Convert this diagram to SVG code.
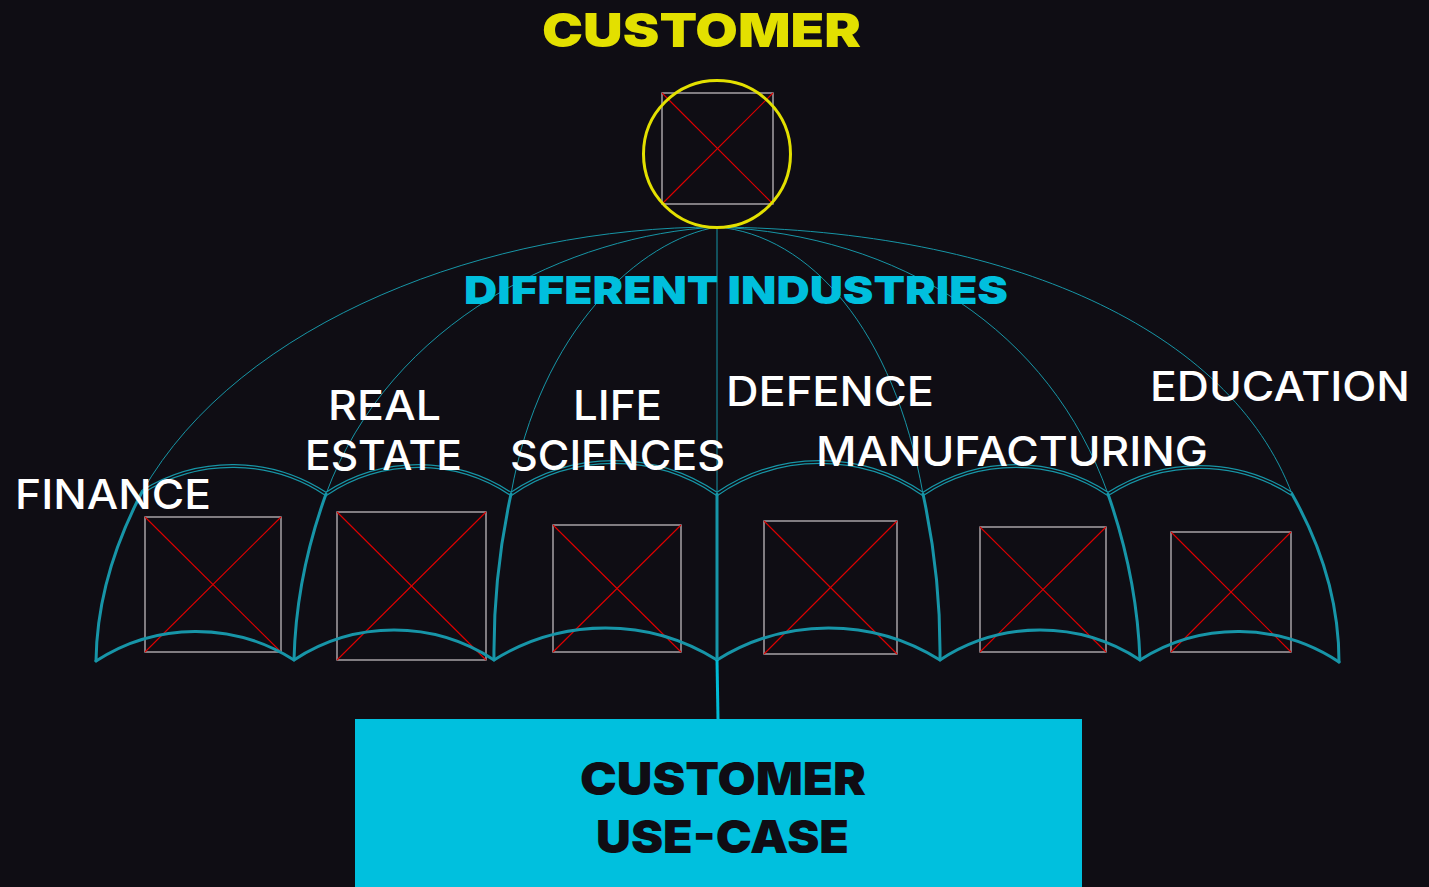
<svg xmlns="http://www.w3.org/2000/svg" width="1429" height="887" viewBox="0 0 1429 887">
<style>
.bg{fill:#0F0D14}
.thin{fill:none;stroke:#1795A6;stroke-width:1}
.thick{fill:none;stroke:#1795A8;stroke-width:3;stroke-linecap:round}
.ringo{fill:none;stroke:#1795A6;stroke-width:4}
.ringi{fill:none;stroke:#0F0D14;stroke-width:1.6}
.ph{fill:none;stroke:#BDB8BC;stroke-width:1.3}
.phx{stroke:#E00000;stroke-width:1.1}
.lbl{font-family:Inter,'Open Sans','Liberation Sans',sans-serif;font-size:41px;font-weight:500;fill:#FFFFFF}
.head{font-family:Inter,'Open Sans','Liberation Sans',sans-serif;font-weight:900}
</style>
<rect class="bg" x="0" y="0" width="1429" height="887"/>

<g id="images">
  <g id="img-customer"><rect class="ph" x="662" y="93" width="111" height="111"/><line class="phx" x1="662" y1="93" x2="773" y2="204"/><line class="phx" x1="773" y1="93" x2="662" y2="204"/></g>
  <g id="img-finance"><rect class="ph" x="145" y="517" width="136" height="135"/><line class="phx" x1="145" y1="517" x2="281" y2="652"/><line class="phx" x1="281" y1="517" x2="145" y2="652"/></g>
  <g id="img-realestate"><rect class="ph" x="337" y="512" width="149" height="148"/><line class="phx" x1="337" y1="512" x2="486" y2="660"/><line class="phx" x1="486" y1="512" x2="337" y2="660"/></g>
  <g id="img-lifesciences"><rect class="ph" x="553" y="525" width="128" height="127"/><line class="phx" x1="553" y1="525" x2="681" y2="652"/><line class="phx" x1="681" y1="525" x2="553" y2="652"/></g>
  <g id="img-defence"><rect class="ph" x="764" y="521" width="133" height="133"/><line class="phx" x1="764" y1="521" x2="897" y2="654"/><line class="phx" x1="897" y1="521" x2="764" y2="654"/></g>
  <g id="img-manufacturing"><rect class="ph" x="980" y="527" width="126" height="125"/><line class="phx" x1="980" y1="527" x2="1106" y2="652"/><line class="phx" x1="1106" y1="527" x2="980" y2="652"/></g>
  <g id="img-education"><rect class="ph" x="1171" y="532" width="120" height="120"/><line class="phx" x1="1171" y1="532" x2="1291" y2="652"/><line class="phx" x1="1291" y1="532" x2="1171" y2="652"/></g>
</g>

<g id="connectors">
  <path class="thin" d="M717,227 C490,227 240,320 142,492"/>
  <path class="thin" d="M717,227 C570,235 390,320 326,494"/>
  <path class="thin" d="M717,227 C640,240 540,330 511,494"/>
  <path class="thin" d="M717,227 L717,494"/>
  <path class="thin" d="M717,227 C810,235 894,330 923,494"/>
  <path class="thin" d="M717,227 C900,235 1050,330 1108,494"/>
  <path class="thin" d="M717,227 C1010,230 1230,330 1292,494"/>
  <path class="ringo" d="M142,492 A170,170 0 0 1 326,494 A167,167 0 0 1 511,494 A182,182 0 0 1 717,494 A182,182 0 0 1 923,494 A167,167 0 0 1 1108,494 A170,170 0 0 1 1292,494"/>
  <path class="ringi" d="M142,492 A170,170 0 0 1 326,494 A167,167 0 0 1 511,494 A182,182 0 0 1 717,494 A182,182 0 0 1 923,494 A167,167 0 0 1 1108,494 A170,170 0 0 1 1292,494"/>
  <path class="thick" d="M142,492 Q97,578 96,661"/>
  <path class="thick" d="M326,494 Q296,577 294,660"/>
  <path class="thick" d="M511,494 Q493,577 494,660"/>
  <path class="thick" d="M717,494 L717,660"/>
  <path class="thick" d="M923,494 Q941,577 940,660"/>
  <path class="thick" d="M1108,494 Q1137,577 1140,660"/>
  <path class="thick" d="M1292,494 Q1339,577 1339,662"/>
  <path class="thick" d="M96,661 A183,183 0 0 1 294,660 A182,182 0 0 1 494,660 A210,210 0 0 1 717,660 A210,210 0 0 1 940,660 A182,182 0 0 1 1140,660 A183,183 0 0 1 1339,662" stroke-linejoin="miter"/>
  <path d="M717,660 L718,719" fill="none" stroke="#00BCD6" stroke-width="3"/>
</g>

<g id="customer">
  <text class="head" x="542" y="47" font-size="47" fill="#E3E000" textLength="319" lengthAdjust="spacingAndGlyphs">CUSTOMER</text>
  <circle cx="717" cy="154" r="73.5" fill="none" stroke="#E3E000" stroke-width="3"/>
</g>

<g id="industries-title">
  <text class="head" x="464" y="304" font-size="39" fill="#00BFDD" textLength="544" lengthAdjust="spacingAndGlyphs">DIFFERENT INDUSTRIES</text>
</g>

<g id="finance"><text class="lbl" x="15" y="508.5" textLength="196" lengthAdjust="spacingAndGlyphs">FINANCE</text></g>
<g id="real-estate">
  <text class="lbl" x="328" y="419.5" textLength="113" lengthAdjust="spacingAndGlyphs">REAL</text>
  <text class="lbl" x="305" y="470" textLength="157" lengthAdjust="spacingAndGlyphs">ESTATE</text>
</g>
<g id="life-sciences">
  <text class="lbl" x="573" y="419.5" textLength="89" lengthAdjust="spacingAndGlyphs">LIFE</text>
  <text class="lbl" x="510" y="469.5" textLength="215" lengthAdjust="spacingAndGlyphs">SCIENCES</text>
</g>
<g id="defence"><text class="lbl" x="726" y="405.5" textLength="208" lengthAdjust="spacingAndGlyphs">DEFENCE</text></g>
<g id="manufacturing"><text class="lbl" x="816" y="465.5" textLength="392" lengthAdjust="spacingAndGlyphs">MANUFACTURING</text></g>
<g id="education"><text class="lbl" x="1150" y="400.5" textLength="260" lengthAdjust="spacingAndGlyphs">EDUCATION</text></g>

<g id="use-case">
  <rect x="355" y="719" width="727" height="168" fill="#00C0DE"/>
  <text class="head" x="580" y="795" font-size="46" fill="#0F0D14" textLength="286" lengthAdjust="spacingAndGlyphs">CUSTOMER</text>
  <text class="head" x="596" y="852.5" font-size="46" fill="#0F0D14" textLength="253" lengthAdjust="spacingAndGlyphs">USE-CASE</text>
</g>
</svg>
